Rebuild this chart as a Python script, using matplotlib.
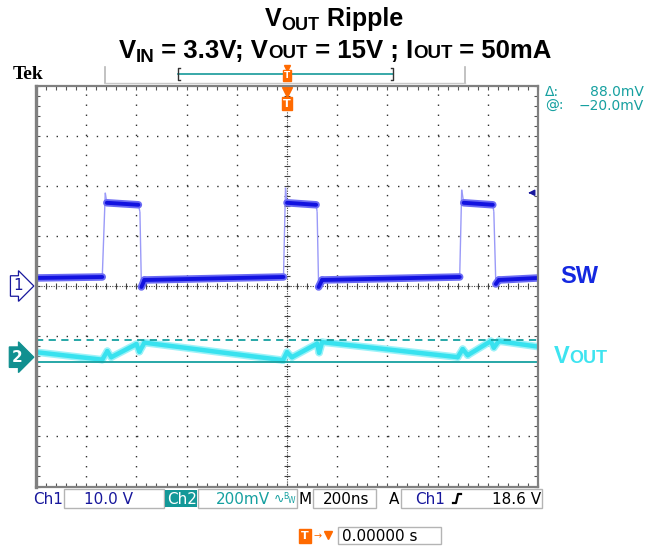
import matplotlib
matplotlib.use("Agg")
import matplotlib.pyplot as plt
import numpy as np
from matplotlib.collections import LineCollection
from matplotlib.ticker import MultipleLocator

W, H, DPI = 659, 548, 100

# scope settings (from the status bar)
time_div_ns = 200.0
ch1_div_v = 10.0
ch2_div_mv = 200.0
ch2_offset_div = -1.42
trig_level_v = 18.6
cursor_at_mv = -20.0
cursor_delta_mv = 88.0

# ch1: switch node, time in ns (trigger at 0), volts
sw_t = [-1000, -736, -724, -718, -592, -586, -580, -568,
        -14, -6, 0, 116, 120, 126, 140,
        688, 696, 704, 820, 824, 832, 844, 1000]
sw_v = [1.6, 1.8, 18.6, 16.6, 16.2, 14.8, -0.2, 1.2,
        1.8, 19.6, 16.6, 16.2, 14.8, -0.2, 1.2,
        1.8, 19.2, 16.6, 16.2, 14.8, 0.4, 1.2, 1.6]

# ch2: output ripple, mV (AC coupled)
vout_t = [-1000, -736, -716, -700, -600, -588, -568, -16, 0, 20, 120, 128, 140,
          680, 700, 720, 812, 824, 844, 1000]
vout_mv = [20, -10, 24, 0, 52, 22, 58, -12, 20, 0, 54, 18, 60,
           0, 32, 8, 64, 38, 64, 42]

NAVY = "#17179c"
TEAL = "#16a0a0"
ORANGE = "#ff6a00"
SWBLUE = "#1428e0"
CYAN = "#3ee4f0"
GRID = "#303030"

fig = plt.figure(figsize=(W / DPI, H / DPI), dpi=DPI)
fig.patch.set_facecolor("white")
R = fig.canvas.get_renderer()


def fx(x):
    return x / W


def fy(y):
    return 1 - y / H


def rich(x, y, parts, ha="left", family="Liberation Sans", weight="bold"):
    """parts: (text, size, dy_px, color); laid out left to right on one baseline"""
    out, cur = [], x
    for s, size, dy, color in parts:
        t = fig.text(fx(cur), fy(y + dy), s, fontsize=size, color=color,
                     fontweight=weight, family=family, va="baseline", ha="left")
        w = t.get_window_extent(renderer=R).width
        out.append(t)
        cur += w
    if ha == "center":
        shift = (cur - x) / 2
        for t in out:
            t.set_x(t.get_position()[0] - shift / W)
    return out


# graticule axes
gx0, gx1, gy0, gy1 = 36, 538, 85.5, 486.5
ax = fig.add_axes([fx(gx0), fy(gy1), (gx1 - gx0) / W, (gy1 - gy0) / H])
ax.set_xlim(-5, 5)
ax.set_ylim(-4, 4)
ax.set_xticklabels([]); ax.set_yticklabels([])
ax.xaxis.set_major_locator(MultipleLocator(1))
ax.yaxis.set_major_locator(MultipleLocator(1))
ax.xaxis.set_minor_locator(MultipleLocator(0.2))
ax.yaxis.set_minor_locator(MultipleLocator(0.2))
ax.tick_params(which="both", direction="in", top=True, right=True,
               length=3, width=0.8, color="#555555")
for s in ax.spines.values():
    s.set_color("#808080"); s.set_linewidth(1.6)
ax.spines["left"].set_linewidth(2.4)

for k in range(-4, 5):
    if k != 0:
        ax.axvline(k, color=GRID, lw=1.0, ls=(0, (1, 6.23)))
for k in range(-3, 4):
    if k != 0:
        ax.axhline(k, color=GRID, lw=1.0, ls=(0, (1, 6.23)))
ax.axhline(0, color="#404040", lw=0.8, ls=(0, (1, 1.2)))
ax.axvline(0, color="#404040", lw=0.8, ls=(0, (1, 1.2)))
mk = np.arange(-5, 5.01, 0.2)
ax.plot(mk, np.zeros_like(mk), ls="none", marker="|", ms=4, mew=0.8, color="#404040")
mk = np.arange(-4, 4.01, 0.2)
ax.plot(np.zeros_like(mk), mk, ls="none", marker="_", ms=4, mew=0.8, color="#404040")


def band(x, y, outer, inner, edge, w_out, w_in, steep=3.0):
    pts = np.column_stack([x, y])
    segs = np.stack([pts[:-1], pts[1:]], axis=1)
    dx = np.diff(x); dy = np.diff(y)
    flat = np.abs(dy) < steep * np.abs(dx)
    ax.add_collection(LineCollection(segs[~flat], colors=edge, linewidths=1.0))
    ax.add_collection(LineCollection(segs[flat], colors=outer, linewidths=w_out, capstyle="round"))
    ax.add_collection(LineCollection(segs[flat], colors=inner, linewidths=w_in, capstyle="round"))


t1 = np.array(sw_t) / time_div_ns
y1 = np.array(sw_v) / ch1_div_v
band(t1, y1, "#6a6af4", "#1212e0", "#9a9af8", 5.4, 2.8)

t2 = np.array(vout_t) / time_div_ns
y2 = np.array(vout_mv) / ch2_div_mv + ch2_offset_div
band(t2, y2, "#9cf2f8", "#38e2ef", "#38e2ef", 5.4, 3.2, steep=50)

# cursors
ax.axhline(cursor_at_mv / ch2_div_mv + ch2_offset_div, color=TEAL, lw=1.3)
ax.axhline((cursor_at_mv + cursor_delta_mv) / ch2_div_mv + ch2_offset_div,
           color=TEAL, lw=1.3, ls=(0, (4, 3)))

# channel ground markers
yt = ax.get_yaxis_transform()
ax.annotate("1", xy=(0, 0), xycoords=yt, xytext=(-9.5, 0), textcoords="offset points",
            ha="right", va="center", fontsize=11, color=NAVY, family="DejaVu Sans",
            bbox=dict(boxstyle="rarrow,pad=0.18", fc="white", ec=NAVY, lw=0.9),
            annotation_clip=False)
ax.annotate("2", xy=(0, ch2_offset_div), xycoords=yt, xytext=(-9.5, 0),
            textcoords="offset points", ha="right", va="center", fontsize=11,
            color="white", fontweight="bold", family="DejaVu Sans",
            bbox=dict(boxstyle="rarrow,pad=0.18", fc="#119090", ec="#119090", lw=0.9),
            annotation_clip=False)

# trigger level arrow
ax.annotate("", xy=(0.975, trig_level_v / ch1_div_v), xycoords=yt,
            xytext=(0.99, trig_level_v / ch1_div_v), textcoords=yt,
            arrowprops=dict(arrowstyle="-|>", color=NAVY, lw=1.0, mutation_scale=9))

# trigger position marker inside graticule
xt = ax.get_xaxis_transform()
ax.plot([0], [0.985], transform=xt, marker="v", ms=7, color=ORANGE, clip_on=False)
ax.text(0, 0.955, "T", transform=xt, ha="center", va="center", fontsize=8,
        fontweight="bold", color="white", family="DejaVu Sans",
        bbox=dict(boxstyle="square,pad=0.12", fc=ORANGE, ec=ORANGE))

# titles
rich(334, 26, [("V", 18, 0, "black"), ("OUT", 13, 4, "black"),
               (" Ripple", 18, 0, "black")], ha="center")
rich(335, 58, [("V", 18.5, 0, "black"), ("IN", 13.5, 4, "black"),
               (" = 3.3V; V", 18.5, 0, "black"), ("OUT", 13.5, 0, "black"),
               (" = 15V ; I", 18.5, 0, "black"), ("OUT", 13.5, 0, "black"),
               (" = 50mA", 18.5, 0, "black")], ha="center")

fig.text(fx(13), fy(79), "Tek", fontsize=14, fontweight="bold",
         family="Liberation Serif", va="baseline")

# record bar on top
lines = [
    ([105, 105], [67, 83], "#b8b8b8", 1.2),
    ([465, 465], [67, 83], "#b8b8b8", 1.2),
    ([105, 465], [83, 83], "#c8c8c8", 1.0),
    ([178, 393], [74, 74], "#159a9a", 1.2),
    ([180, 178, 178, 180], [68, 68, 80, 80], "#333333", 1.0),
    ([391, 393, 393, 391], [68, 68, 80, 80], "#333333", 1.0),
]
for xs, ys, c, lw in lines:
    fig.add_artist(plt.Line2D([fx(v) for v in xs], [fy(v) for v in ys],
                              color=c, lw=lw, transform=fig.transFigure))
fig.add_artist(plt.Line2D([fx(287)], [fy(68)], marker="v", ms=5, color=ORANGE,
                          transform=fig.transFigure))
fig.text(fx(287), fy(75.5), "T", fontsize=6.5, fontweight="bold", color="white",
         ha="center", va="center", family="DejaVu Sans",
         bbox=dict(boxstyle="square,pad=0.1", fc=ORANGE, ec=ORANGE))

# measurement readout
fig.text(fx(545), fy(96), "\u0394:", fontsize=10, color=TEAL, family="DejaVu Sans", va="baseline")
fig.text(fx(644), fy(96), "88.0mV", fontsize=10, color=TEAL, family="DejaVu Sans",
         va="baseline", ha="right")
fig.text(fx(545), fy(110), "@:", fontsize=10, color=TEAL, family="DejaVu Sans", va="baseline")
fig.text(fx(644), fy(110), "\u221220.0mV", fontsize=10, color=TEAL, family="DejaVu Sans",
         va="baseline", ha="right")

# trace labels
rich(560, 283, [("SW", 17, 0, SWBLUE)])
rich(554, 363, [("V", 17, 0, CYAN), ("OUT", 13, 0, CYAN)])

# status bar
boxes = [(64, 164), (198, 297), (313, 376), (401, 542)]
for a, b in boxes:
    fig.add_artist(plt.Rectangle((fx(a), fy(508)), (b - a) / W, 19 / H, fill=False,
                                 ec="#b4b4b4", lw=1.0, transform=fig.transFigure))
fig.add_artist(plt.Rectangle((fx(165), fy(507)), 32 / W, 17 / H, fc="#139898",
                             ec="none", transform=fig.transFigure))
sb = [
    (33, "Ch1", NAVY, "left"),
    (133, "10.0 V", NAVY, "right"),
    (167, "Ch2", "white", "left"),
    (270, "200mV", TEAL, "right"),
    (299, "M", "black", "left"),
    (369, "200ns", "black", "right"),
    (389, "A", "black", "left"),
    (415, "Ch1", NAVY, "left"),
    (541, "18.6 V", "black", "right"),
]
for x, s, c, ha in sb:
    fig.text(fx(x), fy(504), s, fontsize=11, color=c, family="DejaVu Sans",
             va="baseline", ha=ha)
fig.text(fx(274), fy(503), "\u223f", fontsize=9, color=TEAL, family="DejaVu Sans", va="baseline")
fig.text(fx(283), fy(499), "B", fontsize=5.5, color=TEAL, family="DejaVu Sans", va="baseline")
fig.text(fx(288), fy(503), "W", fontsize=5.5, color=TEAL, family="DejaVu Sans", va="baseline")
# rising edge symbol
fig.add_artist(plt.Line2D([fx(453), fx(456), fx(458), fx(461)],
                          [fy(503), fy(503), fy(494), fy(494)],
                          color="black", lw=1.6, transform=fig.transFigure))

# trigger time readout
fig.text(fx(305), fy(536), "T", fontsize=8, fontweight="bold", color="white",
         ha="center", va="center", family="DejaVu Sans",
         bbox=dict(boxstyle="square,pad=0.15", fc=ORANGE, ec=ORANGE))
fig.text(fx(318), fy(536), "\u2192", fontsize=7, color=ORANGE, ha="center", va="center",
         family="DejaVu Sans")
fig.add_artist(plt.Line2D([fx(328)], [fy(535)], marker="v", ms=6, color=ORANGE,
                          transform=fig.transFigure))
fig.add_artist(plt.Rectangle((fx(338), fy(544)), 103 / W, 17 / H, fill=False,
                             ec="#b4b4b4", lw=1.0, transform=fig.transFigure))
fig.text(fx(342), fy(541), "0.00000 s", fontsize=11, color="black",
         family="DejaVu Sans", va="baseline")

fig.savefig("out.png", dpi=DPI, facecolor="white")
